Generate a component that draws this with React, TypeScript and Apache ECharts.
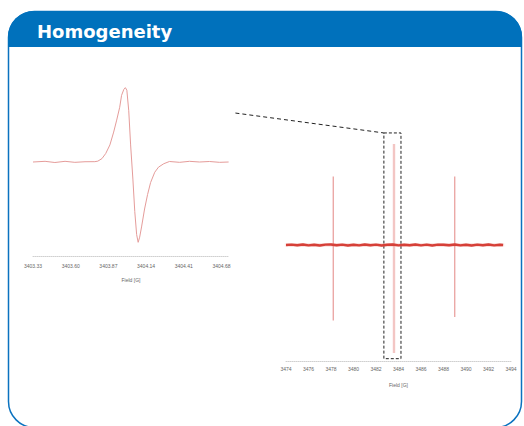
import React, { useEffect, useRef } from "react";
import * as echarts from "echarts";

// ---- Left panel (zoomed single line) ----
const leftTickLabels = ["3403.33", "3403.60", "3403.87", "3404.14", "3404.41", "3404.68"];
const leftX = [0, 0.32, 0.58, 0.85, 1.11, 1.38, 1.64, 1.72, 1.83, 1.93, 2.04, 2.14, 2.22, 2.3, 2.35, 2.41, 2.45, 2.49, 2.54, 2.59, 2.65, 2.7, 2.75, 2.79, 2.83, 2.88, 2.96, 3.04, 3.12, 3.23, 3.33, 3.47, 3.62, 3.89, 4.15, 4.42, 4.68, 4.95, 5.19];
const leftY = [0, 0.008, -0.006, 0.008, -0.004, 0.003, 0.004, 0.01, 0.04, 0.1, 0.2, 0.35, 0.49, 0.64, 0.78, 0.85, 0.87, 0.84, 0.6, 0.2, -0.2, -0.58, -0.85, -0.94, -0.88, -0.76, -0.55, -0.38, -0.24, -0.12, -0.06, -0.02, 0.006, -0.004, 0.008, 0, 0.006, -0.004, 0];

// ---- Right panel (full spectrum) ----
const rightTickLabels = ["3474", "3476", "3478", "3480", "3482", "3484", "3486", "3488", "3490", "3492", "3494"];
const baseX = [3474, 3474.5, 3475, 3475.5, 3476, 3476.5, 3477, 3477.5, 3478, 3478.5, 3479, 3479.5, 3480, 3480.5, 3481, 3481.5, 3482, 3482.5, 3483, 3483.5, 3484, 3484.5, 3485, 3485.5, 3486, 3486.5, 3487, 3487.5, 3488, 3488.5, 3489, 3489.5, 3490, 3490.5, 3491, 3491.5, 3492, 3492.5, 3493, 3493.3];
const baseY = [0, 0.003, -0.002, 0.004, -0.003, 0.002, -0.004, 0.003, 0.004, -0.002, 0.003, -0.004, 0.002, -0.003, 0.004, -0.002, 0.003, -0.004, 0.002, 0.004, -0.003, 0.002, -0.002, 0.004, -0.003, 0.003, -0.004, 0.003, 0.002, -0.002, 0.004, -0.003, 0.002, -0.004, 0.003, -0.002, 0.004, -0.003, 0.002, 0];
const spikeX = [3478.2, 3483.6, 3489.0];
const spikeTop = [0.59, 0.87, 0.59];
const spikeBottom = [-0.65, -0.93, -0.62];
const zoomBox = { x0: 3482.7, x1: 3484.22, y0: 0.966, y1: -0.98 };
const connectorStart = [5.37, 0.573];

export default function App() {
  const ref = useRef<HTMLDivElement>(null);
  useEffect(() => {
    if (!ref.current) return;
    const chart = echarts.init(ref.current, null, { renderer: "svg" });
    const labelStyle = { fontSize: 5, color: "#666", fontFamily: "Liberation Sans, Arial, sans-serif" };
    const spikeColors = ["#e89a98", "#f3c6c4", "#e89a98"];
    const spikeWidths = [1.2, 2.4, 1.2];
    const axisLine = { show: true, onZero: false, lineStyle: { color: "#d0d0d0", type: "dotted", width: 1 } };
    const option: any = {
      animation: false,
      grid: [
        { left: 33, right: 295, top: 68, bottom: 170 },
        { left: 286, right: 13, top: 129, bottom: 65 },
      ],
      xAxis: [
        {
          gridIndex: 0, type: "value", min: 0, max: 5.2, interval: 1,
          axisLine, axisTick: { show: false }, splitLine: { show: false },
          axisLabel: { ...labelStyle, margin: 7, formatter: (v: number) => leftTickLabels[v] ?? "" },
          name: "Field [G]", nameLocation: "middle", nameGap: 21, nameTextStyle: { ...labelStyle },
        },
        {
          gridIndex: 1, type: "value", min: 3474, max: 3494, interval: 2,
          axisLine, axisTick: { show: false }, splitLine: { show: false },
          axisLabel: { ...labelStyle, margin: 5, formatter: (v: number) => rightTickLabels[Math.round((v - 3474) / 2)] ?? "" },
          name: "Field [G]", nameLocation: "middle", nameGap: 21, nameTextStyle: { ...labelStyle },
        },
      ],
      yAxis: [
        { gridIndex: 0, type: "value", min: -1.1, max: 1.1, show: false },
        { gridIndex: 1, type: "value", min: -1, max: 1, show: false },
      ],
      series: [
        {
          type: "line", xAxisIndex: 0, yAxisIndex: 0, showSymbol: false, smooth: false,
          data: leftX.map((x, i) => [x, leftY[i]]),
          lineStyle: { color: "#e59c9a", width: 1 },
        },
        ...spikeX.map((x, i) => ({
          type: "line", xAxisIndex: 1, yAxisIndex: 1, showSymbol: false,
          data: [[x, spikeTop[i]], [x, spikeBottom[i]]],
          lineStyle: { color: spikeColors[i], width: spikeWidths[i] },
          markArea: i === 1 ? {
            silent: true,
            itemStyle: { color: "rgba(0,0,0,0)", borderColor: "#222", borderWidth: 1, borderType: [3, 2] },
            data: [[{ coord: [zoomBox.x0, zoomBox.y0] }, { coord: [zoomBox.x1, zoomBox.y1] }]],
          } : undefined,
        })),
        {
          type: "line", xAxisIndex: 1, yAxisIndex: 1, showSymbol: false, z: 3,
          data: baseX.map((x, i) => [x, baseY[i]]),
          lineStyle: { color: "#d63f38", width: 2.4, shadowColor: "rgba(230,120,110,0.6)", shadowBlur: 2 },
        },
      ],
    };
    chart.setOption(option);
    const p0 = chart.convertToPixel({ gridIndex: 0 } as any, connectorStart) as number[];
    const p1 = chart.convertToPixel({ gridIndex: 1 } as any, [zoomBox.x0, zoomBox.y0]) as number[];
    chart.setOption({
      graphic: [
        {
          type: "rect", id: "panel", silent: true,
          shape: { x: 8.5, y: 11.5, width: 513, height: 416, r: 26 },
          style: { fill: "none", stroke: "#0a72bf", lineWidth: 1.5 },
        },
        {
          type: "rect", id: "header", silent: true,
          shape: { x: 8, y: 11, width: 514, height: 36, r: [26, 26, 0, 0] },
          style: { fill: "#0071bc" },
        },
        {
          type: "text", id: "title", silent: true, x: 37, y: 31, z: 10,
          style: {
            text: "Homogeneity", fill: "#ffffff", fontSize: 18, fontWeight: "bold",
            fontFamily: "DejaVu Sans, Verdana, sans-serif", verticalAlign: "middle", align: "left",
          },
        },
        {
          type: "line", id: "connector", silent: true,
          shape: { x1: p0[0], y1: p0[1], x2: p1[0], y2: p1[1] },
          style: { stroke: "#222", lineWidth: 1, lineDash: [4, 3] },
        },
      ],
    });
    return () => chart.dispose();
  }, []);
  return <div ref={ref} style={{ position: "absolute", left: 0, top: 0, width: 524, height: 426 }} />;
}
